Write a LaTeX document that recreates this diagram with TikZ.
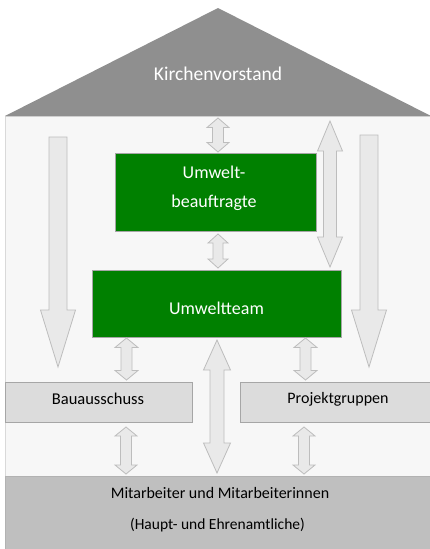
\documentclass[tikz,border=0pt]{standalone}
\usepackage{fontspec}
\setmainfont{Carlito}
\definecolor{roofgray}{HTML}{8F8F8F}
\definecolor{bodygray}{HTML}{F7F7F7}
\definecolor{boxgray}{HTML}{DCDCDC}
\definecolor{basegray}{HTML}{BFBFBF}
\definecolor{arrowfill}{HTML}{E9E9E9}
\definecolor{arrowline}{HTML}{BDBDBD}
\definecolor{teamgreen}{HTML}{008000}
\newcommand{\dblarr}[6]{% cx, ytop, ybot, shaft half, head half, head length
  \filldraw[arrowshape] (#1,#2) -- ({#1+#5},{#2+#6}) -- ({#1+#4},{#2+#6}) -- ({#1+#4},{#3-#6}) -- ({#1+#5},{#3-#6}) -- (#1,#3) -- ({#1-#5},{#3-#6}) -- ({#1-#4},{#3-#6}) -- ({#1-#4},{#2+#6}) -- ({#1-#5},{#2+#6}) -- cycle;}
\newcommand{\downarr}[6]{% cx, ytop, ybot, shaft half, head half, head length
  \filldraw[arrowshape] ({#1-#4},#2) -- ({#1+#4},#2) -- ({#1+#4},{#3-#6}) -- ({#1+#5},{#3-#6}) -- (#1,#3) -- ({#1-#5},{#3-#6}) -- ({#1-#4},{#3-#6}) -- cycle;}
\begin{document}
\begin{tikzpicture}[x=1pt,y=-1pt,
  arrowshape/.style={fill=arrowfill,draw=arrowline,line width=0.8pt,line join=miter},
  greenbox/.style={fill=teamgreen,draw=black!35,line width=0.8pt,text=white,font=\fontsize{18}{30}\selectfont,align=center},
  graybox/.style={fill=boxgray,draw=black!35,line width=0.8pt,font=\fontsize{16.5}{20}\selectfont},
  lbl/.style={inner sep=0pt}]
\useasboundingbox (0,0) rectangle (430,549);
\fill[white] (0,0) rectangle (430,549);
% house body
\filldraw[fill=bodygray,draw=black!15,line width=0.6pt] (5,116) rectangle (431,476);
% roof
\fill[roofgray] (5,116) -- (218,8) -- (431,116) -- cycle;
\node[lbl,text=white,font=\fontsize{19.5}{22}\selectfont] (kv) at (218,74) {Kirchenvorstand};
% green boxes
\node[greenbox,minimum width=201pt,minimum height=78pt,inner sep=0pt] (ub) at (215.5,192) {};
\node[lbl,text=white,font=\fontsize{18}{22}\selectfont] (ubt1) at (214,172) {Umwelt-};
\node[lbl,text=white,font=\fontsize{18}{22}\selectfont] (ubt2) at (214,203) {beauftragte};
\node[greenbox,minimum width=249pt,minimum height=67pt,inner sep=0pt] (ut) at (216.5,303.5) {};
\node[lbl,text=white,font=\fontsize{18}{22}\selectfont] (utt) at (216.5,308) {Umweltteam};
% gray boxes
\node[graybox,minimum width=187pt,minimum height=40pt,inner sep=0pt] (ba) at (98.5,402) {};
\node[lbl,font=\fontsize{16.5}{20}\selectfont] (bat) at (98,399) {Bauausschuss};
\node[graybox,minimum width=191pt,minimum height=40pt,inner sep=0pt] (pg) at (336,402) {};
\node[lbl,font=\fontsize{16}{20}\selectfont] (pgt) at (338,399) {Projektgruppen};
% base
\filldraw[fill=basegray,draw=black!30,line width=0.8pt] (5,476) rectangle (432,551);
\node[lbl,font=\fontsize{16}{20}\selectfont] (ma1) at (220,493) {Mitarbeiter und Mitarbeiterinnen};
\node[lbl,font=\fontsize{15.5}{20}\selectfont] (ma2) at (217.5,525) {(Haupt- und Ehrenamtliche)};
% arrows
\dblarr{218}{118}{152}{5.5}{11}{9.5}
\dblarr{218}{234}{268}{5}{10}{9}
\dblarr{330}{121}{267}{6.5}{12.5}{30}
\downarr{58}{137}{367}{9}{17.5}{57}
\downarr{369}{135}{367}{9}{17.5}{57}
\dblarr{126.5}{338}{380}{5.5}{11.5}{9.5}
\dblarr{305.5}{338}{380}{5.5}{11.5}{9.5}
\dblarr{217}{340}{473}{7}{13.5}{30}
\dblarr{126}{427}{474}{5.5}{11}{9}
\dblarr{304}{427}{474}{5.5}{11}{9}
\end{tikzpicture}
\end{document}
